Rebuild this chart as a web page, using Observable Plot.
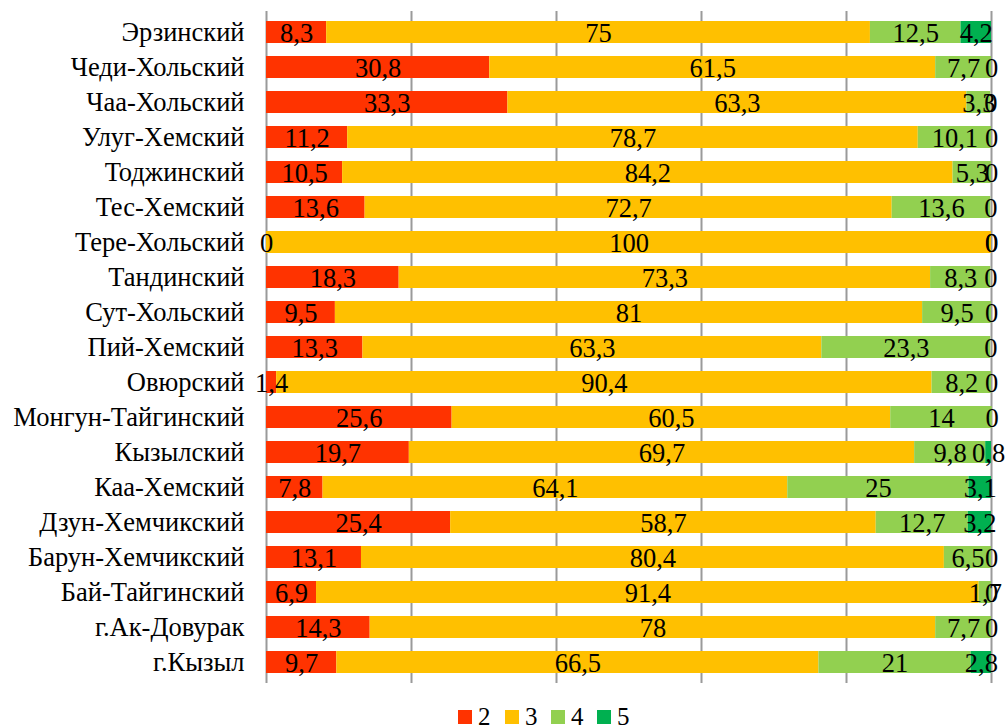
<!DOCTYPE html>
<html>
<head>
<meta charset="utf-8">
<script src="https://cdn.jsdelivr.net/npm/d3@7"></script>
<script src="https://cdn.jsdelivr.net/npm/@observablehq/plot@0.6"></script>
<style>
  body { margin: 0; background: #fff; font-family: 'Liberation Serif'; overflow: hidden; }
  #chart svg { display: block; }
  #legend { position: relative; height: 33px; font-family: 'Liberation Serif'; }
  .item { position: absolute; top: 9px; display: flex; align-items: center; font-size: 25px; line-height: 26px; color: #000; }
  .sw { width: 14px; height: 14px; margin-right: 6px; }
</style>
</head>
<body>
<div id="chart"></div>
<div id="legend"></div>
<script>
const categories = ["Эрзинский","Чеди-Хольский","Чаа-Хольский","Улуг-Хемский","Тоджинский","Тес-Хемский","Тере-Хольский","Тандинский","Сут-Хольский","Пий-Хемский","Овюрский","Монгун-Тайгинский","Кызылский","Каа-Хемский","Дзун-Хемчикский","Барун-Хемчикский","Бай-Тайгинский","г.Ак-Довурак","г.Кызыл"];
const seriesNames = ["2","3","4","5"];
const s2 = [8.3,30.8,33.3,11.2,10.5,13.6,0,18.3,9.5,13.3,1.4,25.6,19.7,7.8,25.4,13.1,6.9,14.3,9.7];
const s3 = [75,61.5,63.3,78.7,84.2,72.7,100,73.3,81,63.3,90.4,60.5,69.7,64.1,58.7,80.4,91.4,78,66.5];
const s4 = [12.5,7.7,3.3,10.1,5.3,13.6,0,8.3,9.5,23.3,8.2,14,9.8,25,12.7,6.5,1.7,7.7,21];
const s5 = [4.2,0,0,0,0,0,0,0,0,0,0,0,0.8,3.1,3.2,0,0,0,2.8];
const colors = ["#FF3300","#FFC000","#92D050","#00B050"];
const gridTicks = [0,20,40,60,80,100];

const seriesValues = [s2,s3,s4,s5];
const data = [];
seriesNames.forEach((s, si) => {
  categories.forEach((c, ci) => {
    data.push({cat: c, series: s, value: seriesValues[si][ci]});
  });
});
const fmt = v => String(v).replace(".", ",");
const FF = "Liberation Serif";
const FS = 26.5;

const chart = Plot.plot({
  width: 1006,
  height: 695,
  marginLeft: 266,
  marginRight: 15,
  marginTop: 11,
  marginBottom: 12,
  style: {fontFamily: FF, fontSize: FS + "px", color: "#000", background: "#fff"},
  x: {domain: [0, 100], axis: null},
  y: {domain: categories, paddingInner: 0.38, paddingOuter: 0.19, label: null},
  color: {domain: seriesNames, range: colors},
  marks: [
    Plot.ruleX(gridTicks, {stroke: "#9a9a9a", strokeWidth: 2}),
    Plot.barX(data, Plot.stackX({x: "value", y: "cat", fill: "series", order: seriesNames})),
    Plot.text(data, Plot.stackX({x: "value", y: "cat", z: "series", order: seriesNames, text: d => fmt(d.value), fill: "#000", fontSize: FS, fontFamily: FF, dy: 1})),
    Plot.axisY({tickSize: 0, tickPadding: 22, fontSize: FS, fontFamily: FF, label: null})
  ]
});
document.getElementById("chart").appendChild(chart);

const legend = document.getElementById("legend");
const lefts = [458, 505, 551, 597];
seriesNames.forEach((s, i) => {
  const it = document.createElement("div");
  it.className = "item";
  it.style.left = lefts[i] + "px";
  it.innerHTML = `<span class="sw" style="background:${colors[i]}"></span><span>${s}</span>`;
  legend.appendChild(it);
});
</script>
</body>
</html>
